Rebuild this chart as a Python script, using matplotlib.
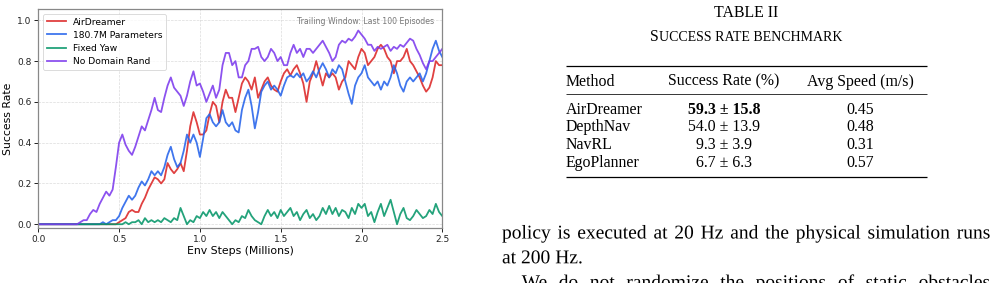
import matplotlib
matplotlib.use("Agg")
import numpy as np
import matplotlib.pyplot as plt
from matplotlib.lines import Line2D
from matplotlib.patches import PathPatch
from matplotlib.textpath import TextPath
from matplotlib.font_manager import FontProperties
from matplotlib.transforms import IdentityTransform, Affine2D

# ---- chart data: success rate sampled every 0.02 M env steps ----
STEP = 0.02
air_dreamer = [0.0] * 25 + [
    0.01, 0.02, 0.03, 0.06, 0.07, 0.06, 0.06, 0.10, 0.13, 0.17,
    0.20, 0.23, 0.22, 0.20, 0.22, 0.30, 0.27, 0.25, 0.27, 0.30,
    0.26, 0.36, 0.48, 0.55, 0.50, 0.44, 0.44, 0.46, 0.54, 0.60,
    0.58, 0.50, 0.60, 0.66, 0.62, 0.62, 0.55, 0.62, 0.69, 0.72,
    0.70, 0.66, 0.72, 0.62, 0.66, 0.70, 0.72, 0.68, 0.66, 0.65,
    0.70, 0.74, 0.76, 0.73, 0.76, 0.78, 0.74, 0.69, 0.60, 0.70,
    0.74, 0.80, 0.74, 0.68, 0.74, 0.72, 0.74, 0.72, 0.66, 0.70,
    0.72, 0.80, 0.78, 0.76, 0.82, 0.86, 0.84, 0.78, 0.80, 0.82,
    0.86, 0.88, 0.86, 0.82, 0.80, 0.74, 0.80, 0.80, 0.82, 0.86,
    0.80, 0.78, 0.75, 0.72, 0.68, 0.65, 0.67, 0.72, 0.80, 0.78,
    0.78]
big_model = [0.0] * 20 + [
    0.01, 0.00, 0.01, 0.02, 0.02, 0.04, 0.08, 0.11, 0.14, 0.12,
    0.14, 0.18, 0.21, 0.19, 0.22, 0.26, 0.24, 0.26, 0.24, 0.28,
    0.34, 0.38, 0.32, 0.28, 0.30, 0.36, 0.44, 0.40, 0.44, 0.40,
    0.33, 0.42, 0.52, 0.54, 0.50, 0.48, 0.50, 0.56, 0.50, 0.48,
    0.50, 0.46, 0.45, 0.56, 0.62, 0.66, 0.58, 0.47, 0.55, 0.65,
    0.68, 0.70, 0.66, 0.68, 0.66, 0.63, 0.68, 0.72, 0.73, 0.72,
    0.74, 0.72, 0.74, 0.70, 0.72, 0.75, 0.72, 0.76, 0.79, 0.76,
    0.72, 0.76, 0.74, 0.78, 0.76, 0.70, 0.64, 0.59, 0.68, 0.72,
    0.74, 0.78, 0.72, 0.70, 0.68, 0.70, 0.66, 0.70, 0.68, 0.72,
    0.78, 0.74, 0.68, 0.65, 0.70, 0.72, 0.70, 0.72, 0.74, 0.70,
    0.74, 0.80, 0.86, 0.90, 0.85, 0.82]
fixed_yaw = [0.0] * 27 + [
    0.01, 0.00, 0.01, 0.01, 0.02, 0.00, 0.03, 0.01, 0.02, 0.01,
    0.02, 0.01, 0.03, 0.02, 0.01, 0.03, 0.02, 0.08, 0.04, 0.00,
    0.02, 0.01, 0.04, 0.03, 0.06, 0.04, 0.07, 0.04, 0.06, 0.03,
    0.06, 0.04, 0.02, 0.00, 0.02, 0.01, 0.04, 0.03, 0.07, 0.04,
    0.02, 0.01, 0.00, 0.04, 0.07, 0.04, 0.06, 0.03, 0.07, 0.04,
    0.06, 0.08, 0.04, 0.06, 0.02, 0.05, 0.07, 0.03, 0.05, 0.02,
    0.04, 0.08, 0.05, 0.09, 0.05, 0.08, 0.04, 0.07, 0.06, 0.03,
    0.08, 0.05, 0.10, 0.08, 0.10, 0.04, 0.06, 0.01, 0.06, 0.10,
    0.04, 0.08, 0.12, 0.06, 0.00, 0.05, 0.08, 0.03, 0.02, 0.04,
    0.07, 0.05, 0.03, 0.04, 0.07, 0.05, 0.10, 0.06, 0.04]
no_domain_rand = [0.0] * 13 + [
    0.01, 0.02, 0.02, 0.05, 0.07, 0.06, 0.10, 0.13, 0.16, 0.14,
    0.17, 0.28, 0.40, 0.44, 0.39, 0.36, 0.34, 0.38, 0.43, 0.48,
    0.46, 0.51, 0.56, 0.62, 0.56, 0.55, 0.62, 0.68, 0.72, 0.67,
    0.65, 0.63, 0.58, 0.63, 0.70, 0.75, 0.68, 0.69, 0.65, 0.60,
    0.64, 0.68, 0.62, 0.66, 0.78, 0.84, 0.84, 0.78, 0.80, 0.72,
    0.72, 0.78, 0.80, 0.86, 0.86, 0.87, 0.82, 0.80, 0.82, 0.86,
    0.84, 0.80, 0.82, 0.78, 0.78, 0.84, 0.88, 0.84, 0.86, 0.82,
    0.86, 0.86, 0.84, 0.86, 0.88, 0.90, 0.87, 0.84, 0.80, 0.82,
    0.88, 0.90, 0.89, 0.91, 0.90, 0.92, 0.95, 0.93, 0.91, 0.88,
    0.88, 0.85, 0.87, 0.86, 0.87, 0.88, 0.85, 0.87, 0.86, 0.88,
    0.87, 0.89, 0.91, 0.90, 0.86, 0.83, 0.79, 0.76, 0.80, 0.80,
    0.82, 0.84, 0.86]

series_labels = ["AirDreamer", "180.7M Parameters", "Fixed Yaw", "No Domain Rand"]
series_values = [air_dreamer, big_model, fixed_yaw, no_domain_rand]
series_colors = ["#dc2626", "#2563eb", "#059669", "#7c3aed"]

# ---- table data ----
methods = ["AirDreamer", "DepthNav", "NavRL", "EgoPlanner"]
success_mean = [59.3, 54.0, 9.3, 6.7]
success_std = [15.8, 13.9, 3.9, 6.3]
avg_speed = [0.45, 0.48, 0.31, 0.57]

body_lines = [
    "policy is executed at 20 Hz and the physical simulation runs",
    "at 200 Hz.",
    "We do not randomize the positions of static obstacles",
]

W, H = 997, 283
fig = plt.figure(figsize=(W / 100, H / 100), dpi=100)
fig.patch.set_facecolor("white")

# ---------------- chart ----------------
ax_l, ax_r, ax_t, ax_b = 38.3, 442.3, 9.3, 227.7
ax = fig.add_axes([ax_l / W, (H - ax_b) / H, (ax_r - ax_l) / W, (ax_b - ax_t) / H])
for vals, lab, col in zip(series_values, series_labels, series_colors):
    xs = np.round(np.arange(len(vals)) * STEP, 2)
    ax.plot(xs, vals, color=col, lw=1.3, alpha=0.88, label=lab)

ax.set_xlim(0, 2.5)
ax.set_ylim(-0.017, 1.054)
ax.set_xticks([0.0, 0.5, 1.0, 1.5, 2.0, 2.5])
ax.set_yticks([0.0, 0.2, 0.4, 0.6, 0.8, 1.0])
ax.tick_params(labelsize=6.5, length=3, width=0.7, pad=2, colors="#222222")
ax.set_xlabel("Env Steps (Millions)", fontsize=7.8, labelpad=1.5)
ax.set_ylabel("Success Rate", fontsize=7.8, labelpad=3)
ax.grid(True, ls="--", lw=0.5, color="#cccccc", alpha=0.7)
for sp in ax.spines.values():
    sp.set_color("#888888")
    sp.set_linewidth(0.9)
leg = ax.legend(loc="upper left", fontsize=6.6, frameon=True, handlelength=2.1,
                borderpad=0.4, labelspacing=0.45)
leg.get_frame().set_edgecolor("#cccccc")
leg.get_frame().set_linewidth(0.6)
ax.text(0.98, 0.965, "Trailing Window: Last 100 Episodes", transform=ax.transAxes,
        ha="right", va="top", fontsize=5.6, color="#777777")

# ---------------- table + text (pixel coords, y measured from top) ----------------
ID = IdentityTransform()
SERIF = "Liberation Serif"
renderer = fig.canvas.get_renderer()


def put(x, y, s, **kw):
    kw.setdefault("family", SERIF)
    kw.setdefault("va", "baseline")
    return fig.text(x, H - y, s, transform=ID, **kw)


def width(s, size, **kw):
    t = put(0, -100, s, fontsize=size, **kw)
    w = t.get_window_extent(renderer).width
    t.remove()
    return w


def rule(x0, x1, y, lw):
    fig.add_artist(Line2D([x0, x1], [H - y, H - y], transform=ID, color="black",
                          lw=lw, solid_capstyle="butt"))


TBL = 11.4
cx = 746.0
put(cx, 17.3, "TABLE II", fontsize=TBL, ha="center")

# small caps caption
big, small = 11.4, 10.0
w_big = width("S", big)
w_small = width("UCCESS RATE BENCHMARK", small)
x0 = cx - (w_big + w_small) / 2
put(x0, 40.7, "S", fontsize=big)
put(x0 + w_big, 40.7, "UCCESS RATE BENCHMARK", fontsize=small)

tx0, tx1 = 565.7, 926.7
col2, col3 = 723.8, 860.0
rule(tx0, tx1, 65.7, 0.9)
put(tx0, 85.7, "Method", fontsize=TBL)
put(col2, 85.7, "Success Rate (%)", fontsize=TBL, ha="center")
put(col3, 85.7, "Avg Speed (m/s)", fontsize=TBL, ha="center")
rule(tx0, tx1, 94.3, 0.55)
row_y = [113.5, 131.3, 149.1, 166.9]
for i, (m, mu, sd, sp) in enumerate(zip(methods, success_mean, success_std, avg_speed)):
    y = row_y[i]
    put(tx0, y, m, fontsize=TBL)
    weight = "bold" if i == 0 else "normal"
    put(col2, y, f"{mu:.1f} \u00b1 {sd:.1f}", fontsize=TBL, ha="center", weight=weight)
    put(col3, y, f"{sp:.2f}", fontsize=TBL, ha="center")
rule(tx0, tx1, 176.7, 0.9)

# body text, justified; drawn as glyph paths so every word sits on one baseline
BODY_PX = 19.5
body_prop = FontProperties(family=SERIF)


def word_path(word):
    return TextPath((0, 0), word, size=BODY_PX, prop=body_prop)


def advance(word):
    # advance width incl. side bearings, from the hinted text metrics
    return width(word, BODY_PX * 0.72)


def draw_word(word, x, y):
    fig.add_artist(PathPatch(word_path(word), transform=Affine2D().translate(x, H - y),
                             facecolor="black", edgecolor="none", lw=0))


def justified(line, xa, xb, y):
    words = line.split()
    ws = [advance(w_) for w_ in words]
    gap = (xb - xa - sum(ws)) / (len(words) - 1)
    x = xa
    for w_, wd in zip(words, ws):
        draw_word(w_, x, y)
        x += wd + gap


def ragged(line, xa, y):
    space = advance("a a") - advance("aa")
    x = xa
    for w_ in line.split():
        draw_word(w_, x, y)
        x += advance(w_) + space


justified(body_lines[0], 502.0, 990.5, 238.5)
ragged(body_lines[1], 502.0, 263.3)
justified(body_lines[2], 521.7, 990.5, 288.1)

fig.savefig("out.png", dpi=100, facecolor="white")
